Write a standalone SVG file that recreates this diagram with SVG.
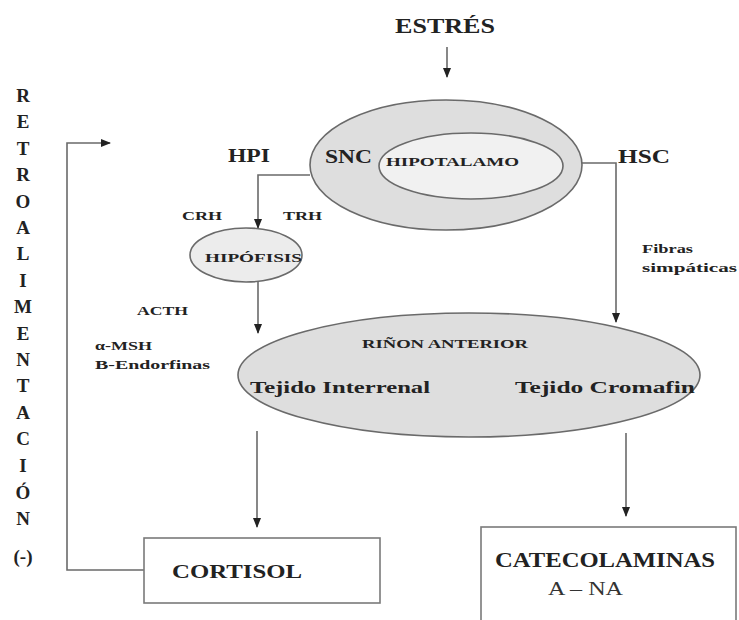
<svg xmlns="http://www.w3.org/2000/svg" width="739" height="620" viewBox="0 0 739 620">
<defs>
<marker id="ah" markerWidth="10" markerHeight="10" refX="9" refY="5" orient="auto" markerUnits="userSpaceOnUse">
<path d="M0,1 L10,5 L0,9 Z" fill="#222"/>
</marker>
<style>
.b{font-family:"Liberation Serif","Times New Roman",serif;font-weight:bold;fill:#222}
.r{font-family:"Liberation Serif","Times New Roman",serif;fill:#333}
.ln{fill:none;stroke:#6a6a6a;stroke-width:1.6}
.el{stroke:#6a6a6a;stroke-width:1.6}
.bx{fill:#fff;stroke:#7a7a7a;stroke-width:1.6}
.v{font-family:"Liberation Serif","Times New Roman",serif;font-weight:bold;fill:#222;font-size:19px;text-anchor:middle}
</style>
</defs>
<rect width="739" height="620" fill="#fff"/>

<g id="title">
<text class="b" x="395" y="33" font-size="21" textLength="100" lengthAdjust="spacingAndGlyphs">ESTRÉS</text>
</g>

<g id="retro">
<text class="v" x="23" y="102">R</text>
<text class="v" x="23" y="128">E</text>
<text class="v" x="23" y="155">T</text>
<text class="v" x="23" y="181">R</text>
<text class="v" x="23" y="208">O</text>
<text class="v" x="23" y="234">A</text>
<text class="v" x="23" y="260">L</text>
<text class="v" x="23" y="287">I</text>
<text class="v" x="23" y="313">M</text>
<text class="v" x="23" y="340">E</text>
<text class="v" x="23" y="366">N</text>
<text class="v" x="23" y="392">T</text>
<text class="v" x="23" y="419">A</text>
<text class="v" x="23" y="445">C</text>
<text class="v" x="23" y="472">I</text>
<text class="v" x="23" y="499">Ó</text>
<text class="v" x="23" y="525">N</text>
<text class="v" x="23" y="563" font-size="17">(-)</text>
</g>

<g id="connectors">
<line class="ln" x1="447" y1="47" x2="447" y2="77" marker-end="url(#ah)"/>
<polyline class="ln" points="310,175 258,175 258,228" marker-end="url(#ah)"/>
<line class="ln" x1="258" y1="282" x2="258" y2="333" marker-end="url(#ah)"/>
<polyline class="ln" points="570,163 616,163 616,322" marker-end="url(#ah)"/>
<line class="ln" x1="257" y1="431" x2="257" y2="527" marker-end="url(#ah)"/>
<line class="ln" x1="626" y1="433" x2="626" y2="516" marker-end="url(#ah)"/>
<polyline class="ln" points="144,570 67,570 67,143 110,143" marker-end="url(#ah)"/>
</g>

<g id="snc">
<ellipse class="el" cx="446" cy="165" rx="136" ry="65" fill="#dedede"/>
<text class="b" x="325" y="163" font-size="19" textLength="47" lengthAdjust="spacingAndGlyphs">SNC</text>
</g>

<g id="hipotalamo">
<ellipse class="el" cx="471" cy="166" rx="92" ry="33" fill="#f1f1f1"/>
<text class="b" x="386" y="166" font-size="13" textLength="133" lengthAdjust="spacingAndGlyphs">HIPOTALAMO</text>
</g>

<g id="labels">
<text class="b" x="228" y="162" font-size="19" textLength="42" lengthAdjust="spacingAndGlyphs">HPI</text>
<text class="b" x="618" y="163" font-size="19" textLength="52" lengthAdjust="spacingAndGlyphs">HSC</text>
<text class="b" x="182" y="220" font-size="12" textLength="40" lengthAdjust="spacingAndGlyphs">CRH</text>
<text class="b" x="283" y="220" font-size="12" textLength="39" lengthAdjust="spacingAndGlyphs">TRH</text>
<text class="b" x="137" y="315" font-size="13" textLength="51" lengthAdjust="spacingAndGlyphs">ACTH</text>
<text class="b" x="95" y="350" font-size="13" textLength="57" lengthAdjust="spacingAndGlyphs">α-MSH</text>
<text class="b" x="95" y="369" font-size="13" textLength="115" lengthAdjust="spacingAndGlyphs">B-Endorfinas</text>
<text class="b" x="642" y="253" font-size="13" textLength="51" lengthAdjust="spacingAndGlyphs">Fibras</text>
<text class="b" x="642" y="272" font-size="13" textLength="95" lengthAdjust="spacingAndGlyphs">simpáticas</text>
</g>

<g id="hipofisis">
<ellipse class="el" cx="246" cy="255" rx="56" ry="27" fill="#ececec"/>
<text class="b" x="205" y="262" font-size="13" textLength="97" lengthAdjust="spacingAndGlyphs">HIPÓFISIS</text>
</g>

<g id="rinon">
<ellipse class="el" cx="469" cy="375" rx="231" ry="62" fill="#dedede"/>
<text class="b" x="362" y="348" font-size="13" textLength="166" lengthAdjust="spacingAndGlyphs">RIÑON ANTERIOR</text>
<text class="b" x="250" y="393" font-size="16" textLength="180" lengthAdjust="spacingAndGlyphs">Tejido  Interrenal</text>
<text class="b" x="515" y="393" font-size="16" textLength="180" lengthAdjust="spacingAndGlyphs">Tejido  Cromafin</text>
</g>

<g id="cortisol">
<rect class="bx" x="144" y="538" width="236" height="65"/>
<text class="b" x="172" y="578" font-size="19" textLength="130" lengthAdjust="spacingAndGlyphs">CORTISOL</text>
</g>

<g id="catecolaminas">
<rect class="bx" x="481" y="527" width="255" height="100"/>
<text class="b" x="495" y="567" font-size="20" textLength="220" lengthAdjust="spacingAndGlyphs">CATECOLAMINAS</text>
<text class="r" x="548" y="595" font-size="19" textLength="75" lengthAdjust="spacingAndGlyphs">A – NA</text>
</g>
</svg>
